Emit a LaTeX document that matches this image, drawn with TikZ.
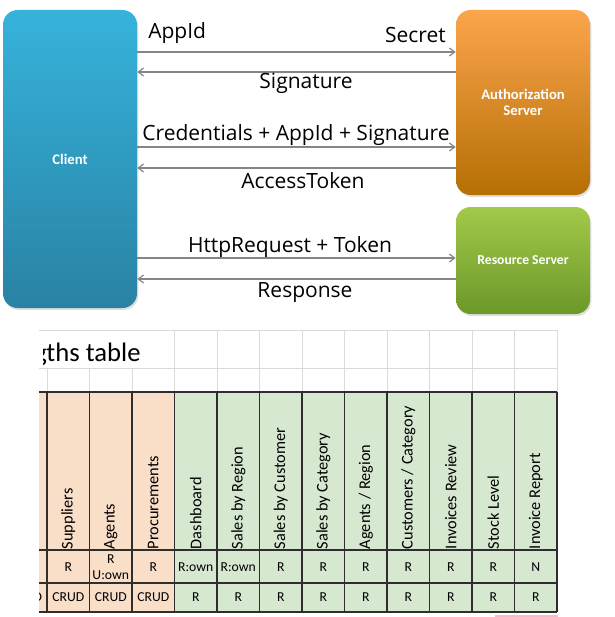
\documentclass[tikz,border=0pt]{standalone}
\usepackage{fontspec}
\setmainfont{Carlito}
\newfontfamily\handfont{Open Sans}
\usetikzlibrary{arrows.meta,shadows}
\definecolor{clientTop}{HTML}{36B3DB}
\definecolor{clientBot}{HTML}{2982A4}
\definecolor{authTop}{HTML}{FCA54C}
\definecolor{authBot}{HTML}{B56F04}
\definecolor{resTop}{HTML}{A2C94A}
\definecolor{resBot}{HTML}{6C9829}
\definecolor{arrowgray}{HTML}{858585}
\definecolor{cellorange}{HTML}{F9DEC8}
\definecolor{cellgreen}{HTML}{D7E8D1}
\definecolor{gridgray}{HTML}{DADADA}
\definecolor{tableline}{HTML}{2E2E2E}
\definecolor{pinkline}{HTML}{F5BCCD}
\begin{document}
\begin{tikzpicture}[x=0.75pt,y=-0.75pt,
  box/.style={rounded corners=11pt, minimum width=100.5pt, inner sep=0pt,
    drop shadow={shadow xshift=1pt,shadow yshift=-1.5pt,opacity=0.25},
    text=white, align=center, font=\bfseries\fontsize{11}{12.5}\selectfont},
  arr/.style={draw=arrowgray, line width=0.9pt, -{Straight Barb[length=4pt,width=6pt]}},
  lbl/.style={inner sep=0pt, font=\handfont\fontsize{15.75}{18}\selectfont},
  hdr/.style={rotate=90, anchor=west, inner sep=0.5pt, font=\fontsize{12.25}{14}\selectfont},
  cell/.style={inner sep=0pt, align=center, font=\fontsize{10.25}{12.5}\selectfont},
  gline/.style={draw=gridgray, line width=0.6pt},
  tline/.style={draw=tableline, line width=0.9pt}]
\useasboundingbox (0,0) rectangle (614,617);
\fill[white] (0,0) rectangle (614,617);

% ---------- top diagram ----------
\node[box, top color=clientTop, bottom color=clientBot, minimum height=223.5pt] (client) at (70,159) {Client};
\node[box, top color=authTop, bottom color=authBot, minimum height=138.75pt] (auth) at (523,102.5) {Authorization\\Server};
\node[box, top color=resTop, bottom color=resBot, minimum height=80.25pt, font=\bfseries\fontsize{10.25}{11.5}\selectfont] (res) at (523,260.5) {Resource Server};

\draw[arr] (client.east |- 0,52) -- (auth.west |- 0,52);
\draw[arr] (auth.west |- 0,72) -- (client.east |- 0,72);
\draw[arr] (client.east |- 0,147) -- (auth.west |- 0,147);
\draw[arr] (auth.west |- 0,168) -- (client.east |- 0,168);
\draw[arr] (client.east |- 0,258) -- (res.west |- 0,258);
\draw[arr] (res.west |- 0,279) -- (client.east |- 0,279);

\node[lbl, anchor=west] (appid) at (148,33) {AppId};
\node[lbl, anchor=east] (secret) at (446,35) {Secret};
\node[lbl] (sig) at (306,83) {Signature};
\node[lbl] (cred) at (296,135) {Credentials + AppId + Signature};
\node[lbl] (acc) at (303,181) {AccessToken};
\node[lbl] (http) at (290,247) {HttpRequest + Token};
\node[lbl] (resp) at (305,293) {Response};

% ---------- table ----------
\begin{scope}
\clip (39,320) rectangle (614,617);
\fill[cellorange] (0,392) rectangle (174.5,612);
\fill[cellgreen] (174.5,392) rectangle (557,612);
\draw[gline] (0,330) -- (557,330);
\draw[gline] (0,368) -- (557,368);
\foreach \k in {3,...,12} \draw[gline] ({47+42.5*\k},330) -- ({47+42.5*\k},392);
\foreach \k in {0,1,2} \draw[gline] ({47+42.5*\k},368) -- ({47+42.5*\k},392);
\node[cell] (c0) at (26,597.5) {CRUD};
\draw[tline, line width=1.3pt] (0,392) -- (557,392);
\draw[tline] (0,550) -- (557,550);
\draw[tline] (0,583) -- (557,583);
\draw[tline] (0,612) -- (557,612);
\end{scope}
\begin{scope}
\clip (43,320) rectangle (300,392);
\node[anchor=base west, inner sep=0pt, font=\fontsize{20}{24}\selectfont] (title) at (34,361) {gths table};
\end{scope}
\foreach \k in {0,...,12} \draw[tline] ({47+42.5*\k},392) -- ({47+42.5*\k},612);

\foreach \i/\t in {1/Suppliers,2/Agents,3/Procurements,4/Dashboard,5/{Sales by Region},6/{Sales by Customer},7/{Sales by Category},8/{Agents / Region},9/{Customers / Category},10/{Invoices Review},11/{Stock Level},12/{Invoice Report}}
  \node[hdr] (h\i) at ({47+42.5*(\i-0.5)},550) {\t};

\foreach \i/\t in {1/R,2/{R\\U:own},3/R,4/R:own,5/R:own,6/R,7/R,8/R,9/R,10/R,11/R,12/N}
  \node[cell] (a\i) at ({47+42.5*(\i-0.5)},567) {\t};

\foreach \i/\t in {1/CRUD,2/CRUD,3/CRUD,4/R,5/R,6/R,7/R,8/R,9/R,10/R,11/R,12/R}
  \node[cell] (b\i) at ({47+42.5*(\i-0.5)},597.5) {\t};

\draw[draw=pinkline, line width=1.5pt] (495,615.5) -- (558,615.5);
\end{tikzpicture}
\end{document}
